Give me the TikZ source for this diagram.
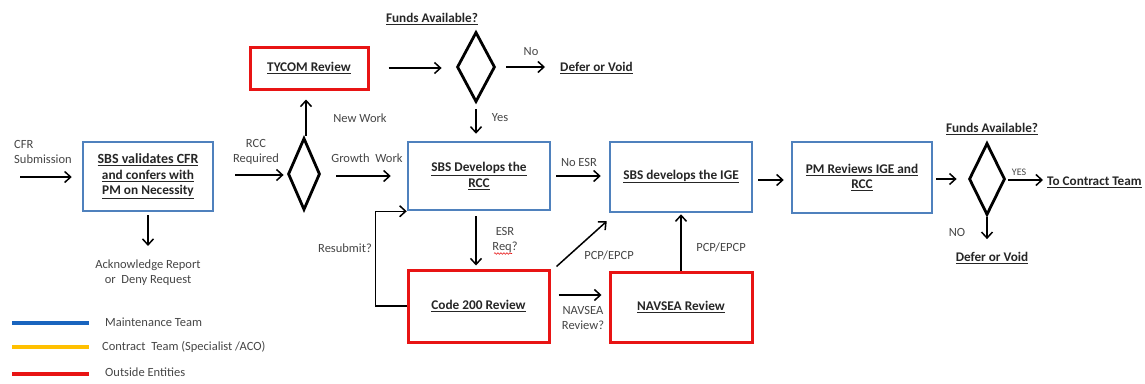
\documentclass[tikz,border=0pt]{standalone}
\usepackage{fontspec}
\setmainfont{Carlito}
\usetikzlibrary{arrows.meta,shapes.geometric,decorations.pathmorphing}
\definecolor{boxblue}{RGB}{79,129,189}
\definecolor{legblue}{RGB}{25,100,190}
\definecolor{legyellow}{RGB}{255,192,0}
\definecolor{boxred}{RGB}{232,20,20}
\definecolor{txt}{RGB}{70,70,70}
\newcommand{\ul}[1]{\underline{#1}}
\tikzset{
  lbl/.style={font=\fontsize{12.5}{15}\selectfont, text=txt, inner sep=0pt, align=center},
  blbl/.style={font=\fontsize{13.2}{15}\selectfont\bfseries, text=black!85, inner sep=0pt, align=center},
  bbox/.style={draw=boxblue, line width=2.5pt, rectangle, inner sep=0pt, align=center,
     font=\fontsize{13.3}{15.5}\selectfont\bfseries, text=black!85},
  rbox/.style={draw=boxred, line width=3pt, rectangle, inner sep=0pt, align=center,
     font=\fontsize{13.3}{15.5}\selectfont\bfseries, text=black!85},
  dia/.style={draw=black, line width=2.8pt, diamond, inner sep=0pt},
  arr/.style={draw=black, line width=1.5pt, -{Straight Barb[length=6pt,width=11pt,line width=1.5pt]}},
  leg/.style={line width=3.5pt},
}
\begin{document}
\begin{tikzpicture}[x=1pt,y=-1pt]
\useasboundingbox[fill=white] (0,0) rectangle (1145,383);

% boxes
\node[bbox, minimum width=130pt, minimum height=69pt] (val) at (148,176.5)
  {\fontsize{14}{15.5}\selectfont\ul{SBS validates CFR}\\\ul{and confers with}\\\ul{PM on Necessity}};
\node[rbox, minimum width=118pt, minimum height=42pt] (tycom) at (309,68) {\ul{TYCOM Review}};
\node[bbox, minimum width=142pt, minimum height=68pt] (rcc) at (479,176) {\ul{SBS Develops the}\\\ul{RCC}};
\node[bbox, minimum width=142pt, minimum height=70pt] (ige) at (681,177) {\raisebox{5pt}{\ul{SBS develops the IGE}}};
\node[bbox, minimum width=140pt, minimum height=71pt] (pm) at (862,177.5) {\ul{PM Reviews IGE and}\\\ul{RCC}};
\node[rbox, minimum width=141pt, minimum height=72pt] (c200) at (478.5,306) {\ul{Code 200 Review}};
\node[rbox, minimum width=142pt, minimum height=70pt] (navsea) at (681,307) {\ul{NAVSEA Review}};

% diamonds
\node[dia, minimum width=32pt, minimum height=72pt] (d1) at (304,174) {};
\node[dia, minimum width=38pt, minimum height=70pt] (d2) at (476,67) {};
\node[dia, minimum width=36pt, minimum height=72pt] (d3) at (987,179) {};

% text labels
\node[lbl, anchor=west, align=left] (cfr) at (14,152) {CFR\\Submission};
\coordinate (cfrS) at (20,177);
\node[lbl] (ack) at (148,273) {Acknowledge Report\\or\ \ Deny Request};
\node[lbl, align=center] (rccreq) at (256,152) {RCC\\Required};
\coordinate (rccS) at (235,175);
\node[lbl] (newwork) at (360,118) {New Work};
\node[lbl] (growth) at (367,158) {Growth\ \ Work};
\node[blbl] (funds1) at (432,19) {\ul{Funds Available?}};
\node[lbl] (no1) at (531,52) {No};
\node[blbl, anchor=west] (defer1) at (560,68) {\ul{Defer or Void}};
\node[lbl] (yes1) at (500,118) {Yes};
\node[lbl] (noesr) at (579,162) {No ESR};
\node[lbl] (esr) at (505,240) {ESR\\Req?};
\node[lbl] (resub) at (345,248) {Resubmit?};
\node[lbl] (pcp1) at (609,255) {PCP/EPCP};
\node[lbl] (navq) at (583,318) {NAVSEA\\Review?};
\node[lbl] (pcp2) at (721,247) {PCP/EPCP};
\node[blbl] (funds2) at (992,129) {\ul{Funds Available?}};
\node[lbl, font=\fontsize{10}{12}\selectfont] (yes2) at (1019,172) {YES};
\node[blbl, anchor=west] (tocontract) at (1047,182) {\ul{To Contract Team}};
\node[lbl] (no2) at (957,232) {NO};
\node[blbl] (defer2) at (992,258) {\ul{Defer or Void}};

% spell-check squiggle under "Req"
\draw[boxred, line width=0.6pt, decorate, decoration={snake, amplitude=0.8pt, segment length=3pt}]
  (494,253.5) -- (512,253.5);

% connectors
\draw[arr, shorten >=10pt] (cfrS) -- (cfrS -| val.west);
\draw[arr, shorten <=3pt, shorten >=14pt] (val.south) -- (val.south |- ack.north);
\draw[arr, shorten >=3pt] (rccS) -- (rccS -| d1.west);
\draw[arr, shorten <=1pt, shorten >=9pt] ([xshift=2pt]d1.north) -- ([xshift=2pt]d1.north |- tycom.south);
\draw[arr, shorten <=15pt, shorten >=16pt] ([yshift=-2pt]d1.east) -- ([yshift=-2pt]d1.east -| rcc.west);
\draw[arr, shorten <=19pt, shorten >=14pt] (tycom.east) -- (tycom.east -| d2.west);
\draw[arr, shorten <=10pt, shorten >=15pt] (d2.east) -- (d2.east -| defer1.west);
\draw[arr, shorten <=6pt, shorten >=7pt] (d2.south) -- (d2.south |- rcc.north);
\draw[arr, shorten <=5pt, shorten >=8pt] (rcc.east) -- (rcc.east -| ige.west);
\draw[arr, shorten <=5pt, shorten >=7pt] ([yshift=-3pt]ige.east) -- ([yshift=-3pt]ige.east -| pm.west);
\draw[arr, shorten <=3pt, shorten >=11pt] (pm.east |- d3.east) -- (d3.west);
\draw[arr, shorten <=2pt, shorten >=4pt] ([yshift=-1pt]d3.east) -- ([yshift=-1pt]d3.east -| tocontract.west);
\draw[arr, shorten <=1pt, shorten >=13pt] (d3.south) -- (d3.south |- defer2.north);
\draw[arr, shorten <=5pt, shorten >=3pt] ([xshift=-3pt]rcc.south) -- ([xshift=-3pt]rcc.south |- c200.north);
\draw[arr] (c200.west) -- ++(-31,0) |- (rcc.south west);
\draw[arr] ([shift={(6pt,2pt)}]c200.north east) -- ([shift={(-2pt,-8pt)}]ige.south west);
\draw[arr, shorten <=8pt, shorten >=7pt] ([yshift=11pt]c200.east) -- ([yshift=11pt]c200.east -| navsea.west);
\draw[arr, shorten >=1pt] (navsea.north) -- (ige.south);

% legend
\coordinate (l1a) at (12,323); \coordinate (l1b) at (89,323);
\coordinate (l2a) at (12,347); \coordinate (l2b) at (89,347);
\coordinate (l3a) at (12,374); \coordinate (l3b) at (89,374);
\draw[leg, legblue] (l1a) -- (l1b);
\draw[leg, legyellow] (l2a) -- (l2b);
\draw[leg, boxred] (l3a) -- (l3b);
\node[lbl, anchor=west] (leg1) at (105,322) {Maintenance Team};
\node[lbl, anchor=west] (leg2) at (102,347) {Contract\ \ Team (Specialist /ACO)};
\node[lbl, anchor=west] (leg3) at (105,372) {Outside Entities};
\end{tikzpicture}
\end{document}
